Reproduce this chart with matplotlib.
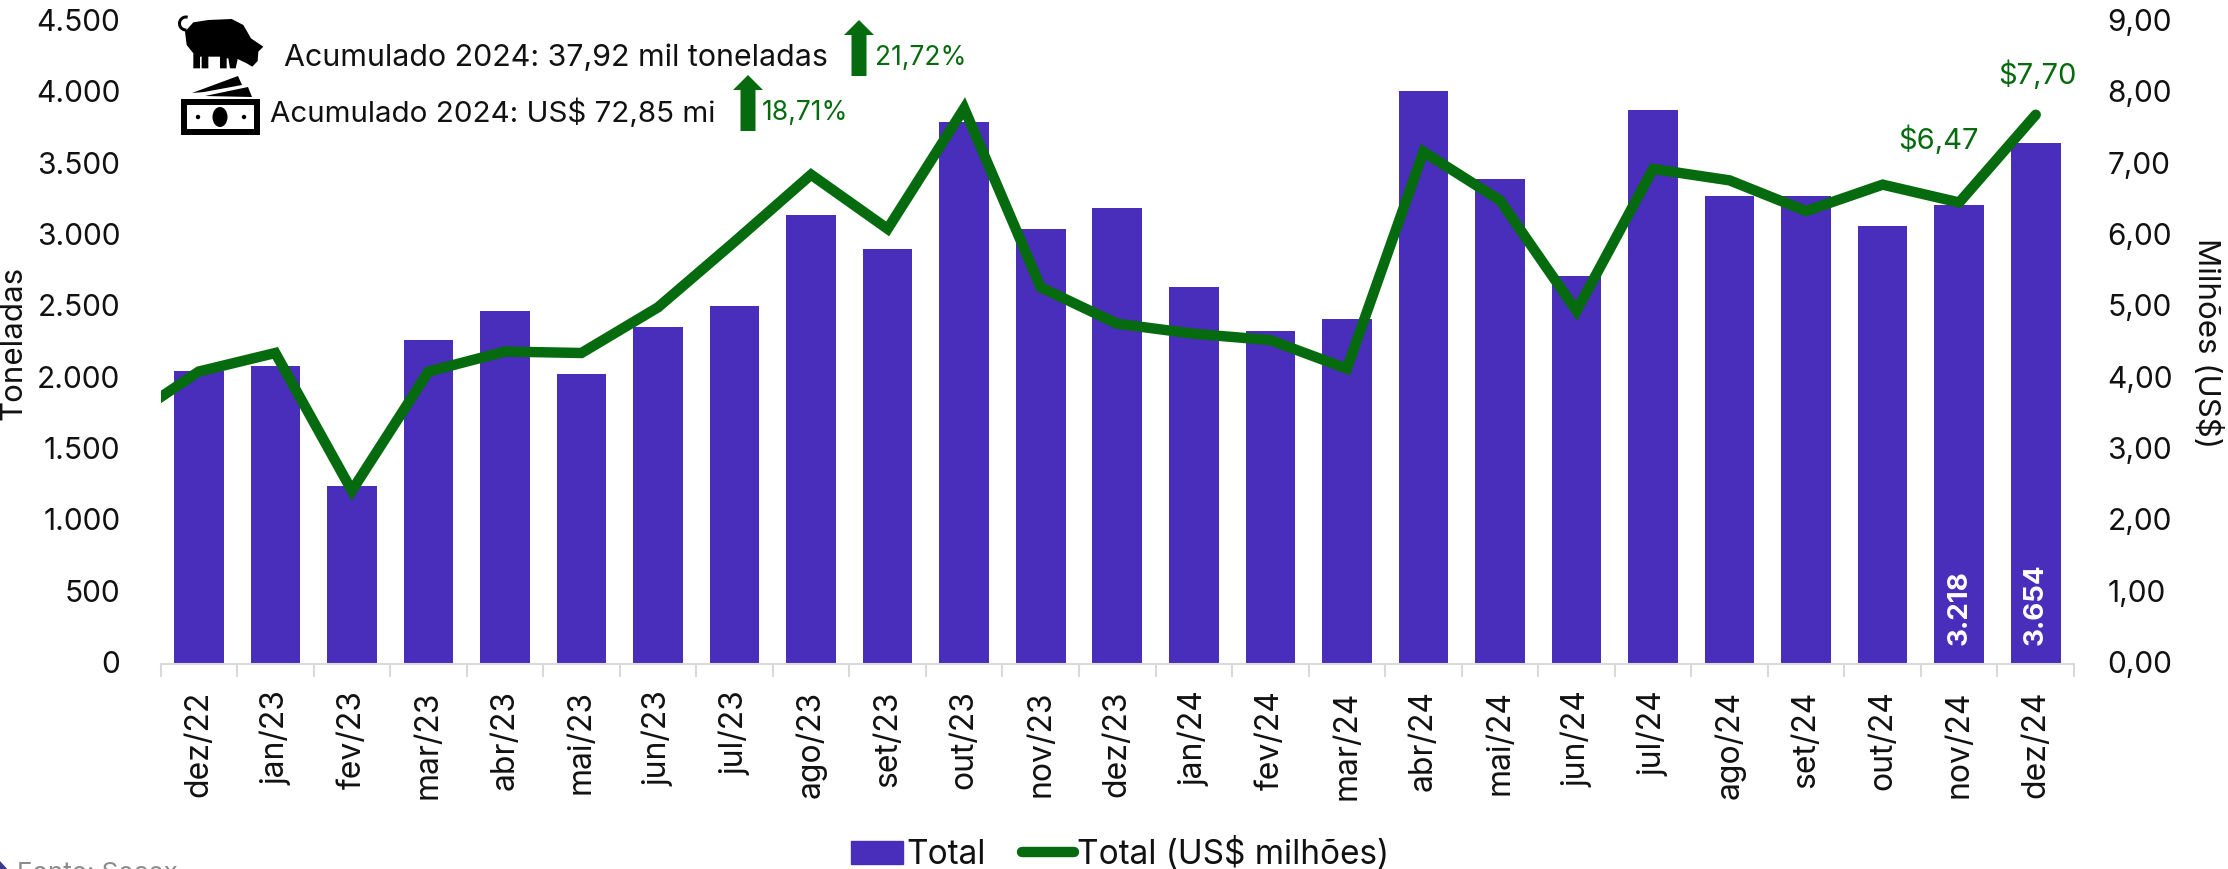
# -*- coding: UTF-8 -*-
import matplotlib
matplotlib.use('Agg')
import matplotlib.pyplot as plt
from matplotlib.patches import Polygon, Rectangle, Ellipse, Circle, Wedge
from matplotlib.lines import Line2D
from matplotlib.ticker import FuncFormatter, MultipleLocator
from matplotlib.transforms import ScaledTranslation

plt.rcParams['font.family'] = ['Inter', 'DejaVu Sans']

W, H = 2228, 869
BAR_COLOR = '#482EBA'
LINE_COLOR = '#066A0E'
TEXT_COLOR = '#111111'

meses = ['dez/22', 'jan/23', 'fev/23', 'mar/23', 'abr/23', 'mai/23', 'jun/23', 'jul/23',
         'ago/23', 'set/23', 'out/23', 'nov/23', 'dez/23', 'jan/24', 'fev/24', 'mar/24',
         'abr/24', 'mai/24', 'jun/24', 'jul/24', 'ago/24', 'set/24', 'out/24', 'nov/24', 'dez/24']
toneladas = [2053, 2092, 1246, 2272, 2471, 2033, 2362, 2512, 3149, 2910, 3797, 3050, 3198,
             2640, 2332, 2421, 4016, 3399, 2721, 3886, 3279, 3279, 3070, 3218, 3654]
# the line enters from the month before the first bar, clipped by the axes
valor_antes = 3.38
milhoes = [4.10, 4.36, 2.43, 4.10, 4.38, 4.36, 5.00, 5.92, 6.86, 6.10, 7.79, 5.28, 4.77,
           4.63, 4.54, 4.14, 7.18, 6.50, 4.95, 6.94, 6.78, 6.35, 6.72, 6.47, 7.70]
rotulos_barra = {23: '3.218', 24: '3.654'}
rotulos_linha = {23: '$6,47', 24: '$7,70'}


def fmt_ton(v, pos):
    return f'{int(v):,}'.replace(',', '.')


def fmt_mi(v, pos):
    return f'{v:.2f}'.replace('.', ',')


fig = plt.figure(figsize=(W / 100, H / 100), dpi=100)
left, right, bottom, top = 160.5, 2074, 664, 22
ax = fig.add_axes([left / W, 1 - bottom / H, (right - left) / W, (bottom - top) / H])

x = list(range(len(meses)))
ax.bar(x, toneladas, width=0.648, color=BAR_COLOR, label='Total', zorder=2)
ax.set_xlim(-0.5, len(meses) - 0.5)
ax.set_ylim(0, 4500)
ax.yaxis.set_major_locator(MultipleLocator(500))
ax.yaxis.set_major_formatter(FuncFormatter(fmt_ton))
ax.set_xticks([i - 0.5 for i in range(len(meses) + 1)], minor=False)
ax.set_xticklabels([])
ax.set_xticks(x, minor=True)
ax.set_xticklabels(meses, minor=True, rotation=90, fontsize=23, color=TEXT_COLOR)
ax.tick_params(axis='x', which='major', length=9, width=1.5, color='#D9D9D9')
ax.tick_params(axis='x', which='minor', length=0, pad=19)
ax.tick_params(axis='y', length=0, labelsize=21.5, labelcolor=TEXT_COLOR, pad=29)
for s in ['top', 'left', 'right']:
    ax.spines[s].set_visible(False)
ax.spines['bottom'].set_color('#D9D9D9')
ax.spines['bottom'].set_linewidth(1.5)
ax.set_ylabel('Toneladas', fontsize=22.5, color=TEXT_COLOR, va='center')
ax.yaxis.set_label_coords(-0.0768, 0.5)

for i, s in rotulos_barra.items():
    ax.annotate(s, (i, 0), xytext=(0, 14), textcoords='offset points', rotation=90,
                ha='center', va='bottom', color='white', fontsize=20, fontweight='bold', zorder=5)

ax2 = ax.twinx()
ax2.plot([-1] + x, [valor_antes] + milhoes, color=LINE_COLOR, lw=7.5, solid_joinstyle='miter',
         solid_capstyle='round', label='Total (US$ milhões)', zorder=4)
ax2.set_ylim(0, 9)
ax2.yaxis.set_major_locator(MultipleLocator(1))
ax2.yaxis.set_major_formatter(FuncFormatter(fmt_mi))
ax2.tick_params(axis='y', length=0, labelsize=21.5, labelcolor=TEXT_COLOR, pad=24)
for s in ['top', 'left', 'right', 'bottom']:
    ax2.spines[s].set_visible(False)
ax2.set_ylabel('Milhões (US$)', fontsize=22.5, color=TEXT_COLOR, rotation=270, va='center')
ax2.yaxis.set_label_coords(1.0695, 0.5)

# the reference's tick labels sit a little above their tick positions
subir = ScaledTranslation(0, 2 / 100, fig.dpi_scale_trans)
for lab in ax.get_yticklabels() + ax2.get_yticklabels():
    lab.set_transform(lab.get_transform() + subir)

ax2.annotate(rotulos_linha[23], (23, milhoes[23]), xytext=(-15, 34), textcoords='offset points',
             ha='center', va='bottom', color=LINE_COLOR, fontsize=21)
ax2.annotate(rotulos_linha[24], (24, milhoes[24]), xytext=(1, 18), textcoords='offset points',
             ha='center', va='bottom', color=LINE_COLOR, fontsize=21)

handles = [Rectangle((0, 0), 1, 1, color=BAR_COLOR),
           Line2D([0], [0], color=LINE_COLOR, lw=7.5, solid_capstyle='round')]
fig.legend(handles, ['Total', 'Total (US$ milhões)'], loc='center', ncol=2, frameon=False,
           bbox_to_anchor=(1120 / W, 1 - 854 / H), fontsize=24, handlelength=1.55, handleheight=0.7,
           columnspacing=1.1, handletextpad=0.1, labelcolor=TEXT_COLOR)

# overlay in picture pixels for the icons, arrows and the notes above the bars
over = fig.add_axes([0, 0, 1, 1], zorder=10)
over.set_xlim(0, W)
over.set_ylim(H, 0)
over.axis('off')
over.patch.set_alpha(0)

over.text(284, 58, 'Acumulado 2024: 37,92 mil toneladas', fontsize=21.9, va='center', color=TEXT_COLOR)
over.text(270, 113, 'Acumulado 2024: US$ 72,85 mi', fontsize=21.3, va='center', color=TEXT_COLOR)
over.text(875, 58, '21,72%', fontsize=19, va='center', color=LINE_COLOR)
over.text(762, 113, '18,71%', fontsize=19, va='center', color=LINE_COLOR)

for cx, y0, y1 in [(859, 20, 76), (748, 75, 131)]:
    over.add_patch(Polygon([(cx - 7.5, y1), (cx - 7.5, y0 + 15), (cx - 15, y0 + 15), (cx, y0),
                            (cx + 15, y0 + 15), (cx + 7.5, y0 + 15), (cx + 7.5, y1)],
                           color=LINE_COLOR, lw=0))

# pig
porco = [(60, 80), (85, 52), (130, 45), (200, 42), (235, 60), (258, 100), (280, 115), (295, 125),
         (280, 140), (278, 168), (262, 185), (245, 175), (218, 162), (212, 190), (195, 190),
         (190, 160), (185, 160), (185, 190), (165, 190), (165, 155), (130, 155), (130, 190),
         (110, 190), (110, 155), (105, 155), (105, 190), (85, 190), (85, 145), (65, 120)]
over.add_patch(Polygon([(165 + a / 3, 5 + b / 3) for a, b in porco], color='black', lw=0))
over.add_patch(Wedge((186, 23.5), 8, 85, 285, width=3, color='black', lw=0))

# banknotes
over.add_patch(Polygon([(192, 93), (238, 76), (242, 85), (204, 92)], color='black', lw=0))
over.add_patch(Polygon([(205, 96), (248, 87), (252, 97)], color='black', lw=0))
over.add_patch(Rectangle((181, 99), 79, 36, color='black', lw=0))
over.add_patch(Rectangle((187, 105), 67, 24, color='white', lw=0))
over.add_patch(Ellipse((220, 117), 15, 20, color='black', lw=0))
over.add_patch(Circle((198, 117), 2.2, color='black', lw=0))
over.add_patch(Circle((244, 117), 2.2, color='black', lw=0))

# source line cut by the lower edge of the picture
over.text(17, 874, 'Fonte: Secex', fontsize=18.7, va='center', color='#8C8C8C', clip_on=True)
over.add_patch(Polygon([(-9, 871), (0, 861), (9, 871)], color='#3B3A8C', lw=0))

fig.savefig('out.png', dpi=100)
